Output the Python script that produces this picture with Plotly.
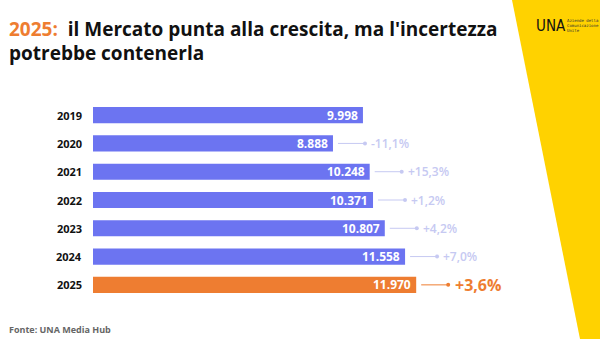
import plotly.graph_objects as go

years = ["2019", "2020", "2021", "2022", "2023", "2024", "2025"]
values = [9998, 8888, 10248, 10371, 10807, 11558, 11970]
growth = ["", "-11,1%", "+15,3%", "+1,2%", "+4,2%", "+7,0%", "+3,6%"]

BLUE = "#6c74f1"
ORANGE = "#ee7d31"
LAV = "#c6c9f2"
FONT = "Open Sans"

# plot-area pixel geometry (figure 600x339)
L, T, B = 93, 101, 40
PW, PH = 600 - L, 339 - T - B


def px(xp):
    return (xp - L) / PW


def py(yp):
    return (339 - B - yp) / PH


idx = list(range(len(years)))
colors = [BLUE] * (len(years) - 1) + [ORANGE]

fig = go.Figure()
fig.add_trace(go.Bar(
    x=values, y=idx, orientation="h", marker=dict(color=colors, line=dict(width=0)),
    width=0.57, hoverinfo="skip",
))

annotations = []
shapes = []
for i, (y, v, g) in enumerate(zip(years, values, growth)):
    annotations.append(dict(x=0, y=i, xref="x", yref="y", text=y, showarrow=False,
                            xanchor="right", xshift=-9,
                            font=dict(family=FONT, size=11, color="#111", weight="bold")))
    annotations.append(dict(x=v, y=i, xref="x", yref="y", text=f"{v:,}".replace(",", "."),
                            showarrow=False, xanchor="right", xshift=-3,
                            font=dict(family=FONT, size=12, color="white", weight="bold")))
    if g:
        last = i == len(years) - 1
        c = ORANGE if last else LAV
        shapes.append(dict(type="line", xref="x", yref="y", xsizemode="pixel", xanchor=v,
                           x0=5, x1=32, y0=i, y1=i, line=dict(color=c, width=1)))
        shapes.append(dict(type="circle", xref="x", yref="y", xsizemode="pixel", ysizemode="pixel",
                           xanchor=v, yanchor=i, x0=30, x1=34, y0=-2, y1=2,
                           fillcolor=c, line=dict(width=0)))
        annotations.append(dict(x=v, y=i, xref="x", yref="y", text=g, showarrow=False,
                                xanchor="left", xshift=36 if not last else 37,
                                font=dict(family=FONT, size=16 if last else 12, color=c,
                                          weight="bold" if last else 600)))

# yellow decoration
shapes.append(dict(type="path", xref="paper", yref="paper", layer="below",
                   path="M %f %f L %f %f L %f %f L %f %f Z" % (
                       px(512), py(0), px(600), py(0), px(600), py(339), px(580), py(339)),
                   fillcolor="#ffd200", line=dict(width=0)))

annotations.append(dict(xref="paper", yref="paper", x=px(7), y=py(29),
                        text="<span style='color:%s'>2025:</span>&nbsp;&nbsp;il Mercato punta alla crescita, ma l'incertezza" % ORANGE,
                        showarrow=False, xanchor="left", yanchor="middle",
                        font=dict(family=FONT, size=19, color="#111", weight="bold")))
annotations.append(dict(xref="paper", yref="paper", x=px(7), y=py(53),
                        text="potrebbe contenerla",
                        showarrow=False, xanchor="left", yanchor="middle",
                        font=dict(family=FONT, size=19, color="#111", weight="bold")))
annotations.append(dict(xref="paper", yref="paper", x=px(534), y=py(26),
                        text="UNA", showarrow=False, xanchor="left", yanchor="middle",
                        font=dict(family="DejaVu Sans Condensed", size=15, color="#111")))
annotations.append(dict(xref="paper", yref="paper", x=px(565), y=py(25),
                        text="Aziende della<br>Comunicazione<br>Unite", showarrow=False,
                        xanchor="left", yanchor="middle", align="left",
                        font=dict(family="DejaVu Sans Mono", size=4, color="#333")))
annotations.append(dict(xref="paper", yref="paper", x=px(7), y=py(329),
                        text="Fonte: UNA Media Hub", showarrow=False, xanchor="left", yanchor="middle",
                        font=dict(family=FONT, size=9, color="#666", weight="bold")))

fig.update_layout(
    width=600, height=339, margin=dict(l=L, r=0, t=T, b=B),
    paper_bgcolor="white", plot_bgcolor="rgba(0,0,0,0)", showlegend=False,
    xaxis=dict(range=[0, PW / 0.027], visible=False, fixedrange=True),
    yaxis=dict(range=[6.5, -0.5], visible=False, fixedrange=True),
    annotations=annotations, shapes=shapes,
)
fig.write_html("out.html")
